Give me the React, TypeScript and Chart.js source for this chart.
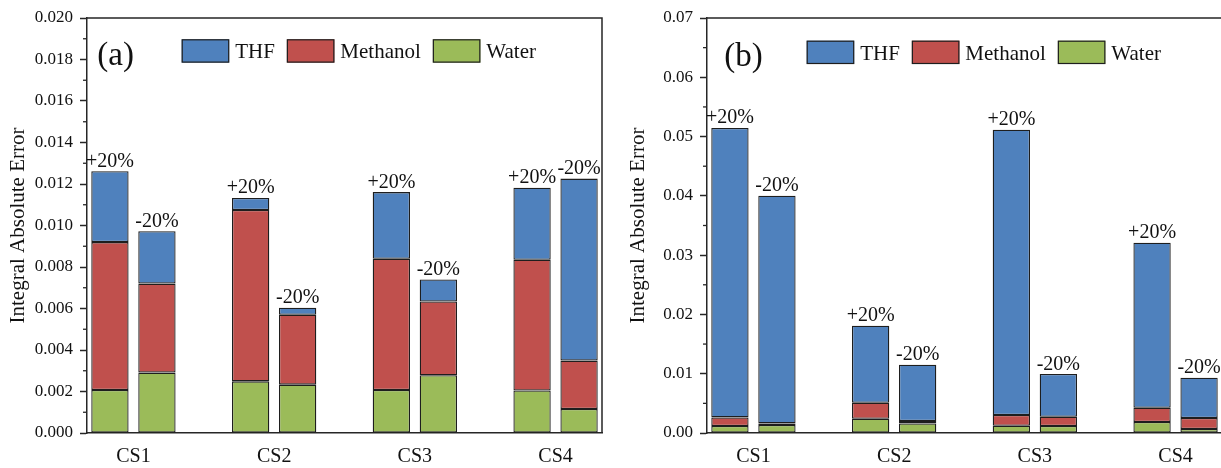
import React, { useEffect, useRef } from 'react';
import { Chart, registerables } from 'chart.js';

Chart.register(...registerables);

// ---------- data ----------
const categories = ['CS1', 'CS2', 'CS3', 'CS4'];
const seriesNames = ['THF', 'Methanol', 'Water'];
const variationLabels = ['+20%', '-20%'];

// Panel (a)
const aWaterPlus = [0.00207, 0.00249, 0.00207, 0.00205];
const aMethanolPlus = [0.00713, 0.00826, 0.00633, 0.0063];
const aThfPlus = [0.00342, 0.00058, 0.00321, 0.00347];
const aWaterMinus = [0.00291, 0.00233, 0.00278, 0.00116];
const aMethanolMinus = [0.00429, 0.00337, 0.00356, 0.00233];
const aThfMinus = [0.00252, 0.00034, 0.00106, 0.00877];

// Panel (b)
const bWaterPlus = [0.00118, 0.00241, 0.00123, 0.00186];
const bMethanolPlus = [0.00145, 0.0027, 0.00181, 0.00241];
const bThfPlus = [0.04882, 0.013, 0.04812, 0.02783];
const bWaterMinus = [0.00135, 0.00162, 0.00118, 0.00067];
const bMethanolMinus = [0.00027, 0.0004, 0.00157, 0.00186];
const bThfMinus = [0.0384, 0.0095, 0.0072, 0.0068];

// y axes
const aYMax = 0.02;
const aYStep = 0.002;
const aYMinorStep = 0.001;
const aYDecimals = 3;
const bYMax = 0.07;
const bYStep = 0.01;
const bYMinorStep = 0.005;
const bYDecimals = 2;

const yTitle = 'Integral Absolute Error';

// ---------- style ----------
const FONT = "'Liberation Serif', 'Times New Roman', serif";
const COLORS: Record<string, string> = {
  THF: '#4F81BD',
  Methanol: '#C0504D',
  Water: '#9BBB59',
};
const EDGE = '#1e1e1e';
const AXIS = '#262626';

type Panel = {
  tag: string;
  plus: { water: number[]; methanol: number[]; thf: number[] };
  minus: { water: number[]; methanol: number[]; thf: number[] };
  yMax: number;
  yStep: number;
  yMinor: number;
  decimals: number;
  tagDx: number;
  tagBaseline: number;
  legendDx: number;
  legendTop: number;
};

const panelA: Panel = {
  tag: '(a)',
  plus: { water: aWaterPlus, methanol: aMethanolPlus, thf: aThfPlus },
  minus: { water: aWaterMinus, methanol: aMethanolMinus, thf: aThfMinus },
  yMax: aYMax,
  yStep: aYStep,
  yMinor: aYMinorStep,
  decimals: aYDecimals,
  tagDx: 10.3,
  tagBaseline: 64.5,
  legendDx: 94.7,
  legendTop: 39.3,
};

const panelB: Panel = {
  tag: '(b)',
  plus: { water: bWaterPlus, methanol: bMethanolPlus, thf: bThfPlus },
  minus: { water: bWaterMinus, methanol: bMethanolMinus, thf: bThfMinus },
  yMax: bYMax,
  yStep: bYStep,
  yMinor: bYMinorStep,
  decimals: bYDecimals,
  tagDx: 17.3,
  tagBaseline: 66,
  legendDx: 99.7,
  legendTop: 40.7,
};

function buildConfig(p: Panel): any {
  const pts = (arr: number[]) => arr.map((v, i) => ({ x: i + 1, y: v }));
  const mk = (name: string, stack: string, arr: number[]) => ({
    label: name,
    stack,
    data: pts(arr),
    backgroundColor: COLORS[name],
    borderColor: EDGE,
    borderWidth: 1.3,
    borderSkipped: false,
  });
  const datasets = [
    mk('Water', 'plus', p.plus.water),
    mk('Methanol', 'plus', p.plus.methanol),
    mk('THF', 'plus', p.plus.thf),
    mk('Water', 'minus', p.minus.water),
    mk('Methanol', 'minus', p.minus.methanol),
    mk('THF', 'minus', p.minus.thf),
  ];
  const topIdx = [2, 5];

  const decorPlugin = {
    id: 'decor',
    afterDatasetsDraw(chart: any) {
      const ctx = chart.ctx;
      ctx.save();
      ctx.fillStyle = '#111';
      ctx.font = `20px ${FONT}`;
      ctx.textAlign = 'center';
      ctx.textBaseline = 'alphabetic';
      topIdx.forEach((di, k) => {
        const meta = chart.getDatasetMeta(di);
        meta.data.forEach((el: any) => {
          ctx.fillText(variationLabels[k], el.x, el.y - 4.5);
        });
      });
      ctx.restore();
    },
    afterDraw(chart: any) {
      const ctx = chart.ctx;
      const ca = chart.chartArea;
      const ys = chart.scales.y;
      ctx.save();
      // frame: top and right
      ctx.strokeStyle = AXIS;
      ctx.lineWidth = 1.5;
      ctx.beginPath();
      ctx.moveTo(ca.left, ca.top);
      ctx.lineTo(ca.right, ca.top);
      ctx.lineTo(ca.right, ca.bottom);
      ctx.stroke();
      // minor ticks
      ctx.lineWidth = 1.3;
      const n = Math.round(p.yMax / p.yMinor);
      for (let i = 1; i < n; i += 2) {
        const y = ys.getPixelForValue(i * p.yMinor);
        ctx.beginPath();
        ctx.moveTo(ca.left - 4, y);
        ctx.lineTo(ca.left, y);
        ctx.stroke();
      }
      // panel tag
      ctx.fillStyle = '#111';
      ctx.font = `33px ${FONT}`;
      ctx.textAlign = 'left';
      ctx.textBaseline = 'alphabetic';
      ctx.fillText(p.tag, ca.left + p.tagDx, p.tagBaseline);
      // legend
      ctx.font = `21px ${FONT}`;
      let x = ca.left + p.legendDx;
      const bw = 47.5;
      const bh = 23.3;
      seriesNames.forEach((name) => {
        ctx.fillStyle = COLORS[name];
        ctx.fillRect(x, p.legendTop, bw, bh);
        ctx.strokeStyle = EDGE;
        ctx.lineWidth = 1.2;
        ctx.strokeRect(x + 0.5, p.legendTop + 0.5, bw - 1, bh - 1);
        ctx.fillStyle = '#111';
        const tx = x + bw + 6;
        ctx.fillText(name, tx, p.legendTop + 19);
        x = tx + ctx.measureText(name).width + 12;
      });
      ctx.restore();
    },
  };

  return {
    type: 'bar',
    data: { datasets },
    plugins: [decorPlugin],
    options: {
      responsive: false,
      animation: false,
      layout: { padding: { top: 18, right: 8, bottom: 0, left: 0 } },
      plugins: { legend: { display: false }, tooltip: { enabled: false } },
      datasets: { bar: { categoryPercentage: 0.668, barPercentage: 0.794 } },
      scales: {
        x: {
          type: 'linear',
          offset: false,
          min: 0.67,
          max: 4.33,
          afterBuildTicks: (s: any) => {
            s.ticks = categories.map((_, i) => ({ value: i + 1 }));
          },
          afterFit: (s: any) => {
            s.height = 35;
          },
          grid: { display: false, drawTicks: false, offset: false },
          border: { display: true, color: AXIS, width: 1.5 },
          ticks: {
            autoSkip: false,
            maxRotation: 0,
            padding: 12,
            color: '#111',
            font: { family: FONT, size: 20 },
            callback: (v: any) => categories[Math.round(v) - 1] ?? '',
          },
        },
        y: {
          type: 'linear',
          stacked: true,
          min: 0,
          max: p.yMax,
          afterFit: (s: any) => {
            s.width = 87;
          },
          grid: {
            drawOnChartArea: false,
            drawTicks: true,
            tickLength: 7,
            tickColor: AXIS,
            tickWidth: 1.5,
          },
          border: { display: true, color: AXIS, width: 1.5 },
          ticks: {
            stepSize: p.yStep,
            padding: 7,
            color: '#111',
            font: { family: FONT, size: 17 },
            callback: (v: any) => Number(v).toFixed(p.decimals),
          },
          title: {
            display: true,
            text: yTitle,
            color: '#111',
            font: { family: FONT, size: 21 },
            padding: { top: 6, bottom: 0 },
          },
        },
      },
    },
  };
}

function PanelChart({ panel, left }: { panel: Panel; left: number }) {
  const ref = useRef<HTMLCanvasElement | null>(null);
  useEffect(() => {
    if (!ref.current) return;
    const chart = new Chart(ref.current, buildConfig(panel));
    return () => chart.destroy();
  }, [panel]);
  return (
    <canvas
      ref={ref}
      width={610}
      height={468}
      style={{ position: 'absolute', left, top: 0, width: 610, height: 468 }}
    />
  );
}

export default function App() {
  return (
    <div
      style={{
        position: 'absolute',
        left: 0,
        top: 0,
        width: 1221,
        height: 468,
        overflow: 'hidden',
        background: '#fff',
      }}
    >
      <PanelChart panel={panelA} left={0} />
      <PanelChart panel={panelB} left={620} />
    </div>
  );
}
